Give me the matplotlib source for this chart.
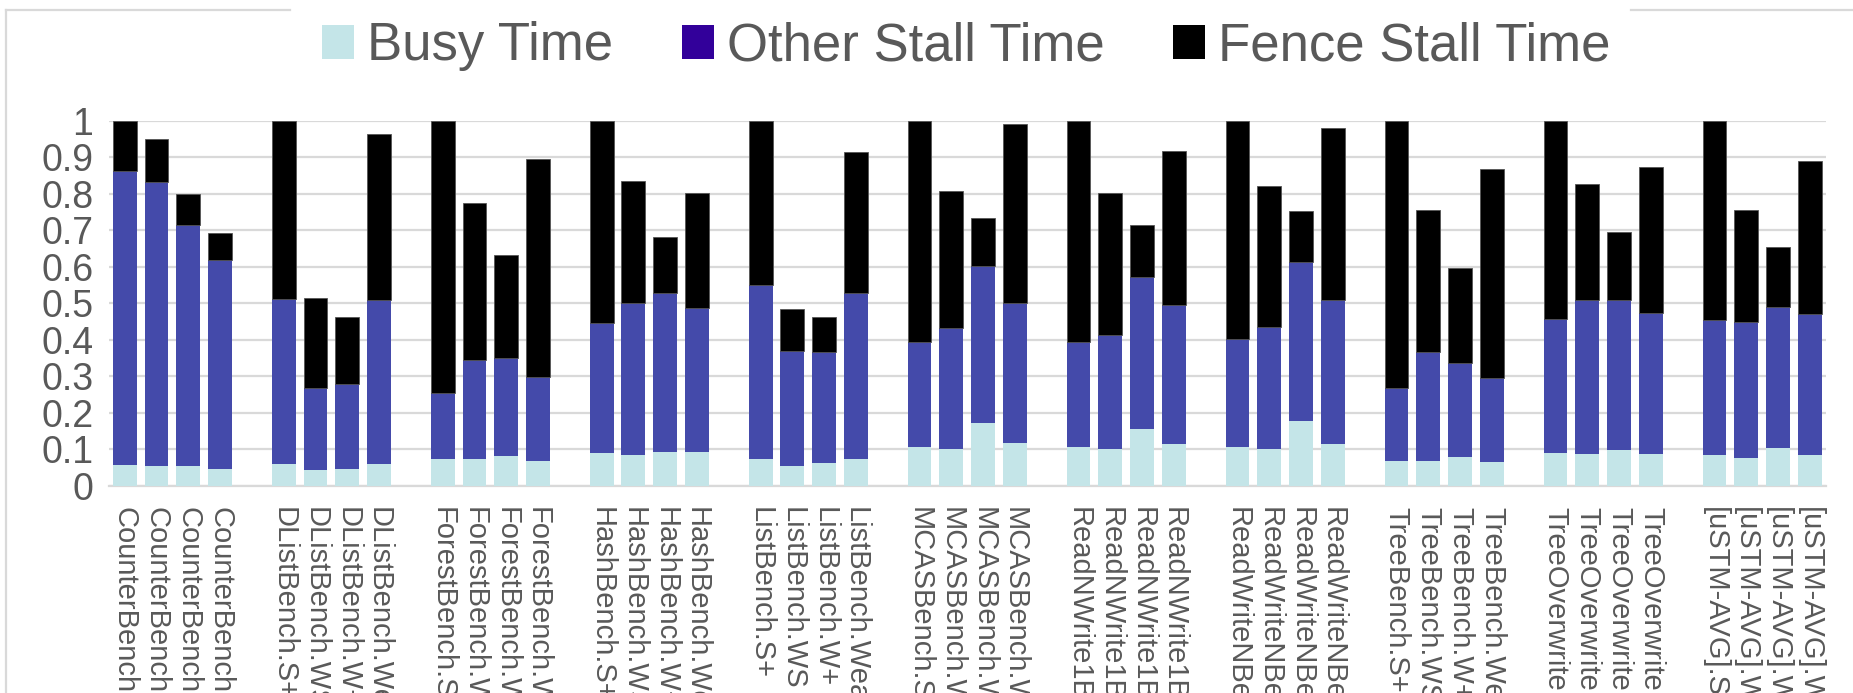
import matplotlib
matplotlib.use("Agg")
import matplotlib.pyplot as plt
from matplotlib.patches import Patch
from matplotlib.lines import Line2D
import numpy as np

plt.rcParams['font.family'] = ['Liberation Sans', 'DejaVu Sans']

groups = ["CounterBench", "DListBench", "ForestBench", "HashBench", "ListBench",
          "MCASBench", "ReadNWrite1Bench", "ReadWriteNBench", "TreeBench",
          "TreeOverwriteBench", "[uSTM-AVG]"]
variants = ["S+", "WS", "W+", "Weak"]

# cumulative tops, per group (4 bars each)
busy_top = [
    [0.058, 0.055, 0.055, 0.046],
    [0.061, 0.042, 0.046, 0.061],
    [0.073, 0.073, 0.082, 0.067],
    [0.089, 0.084, 0.093, 0.093],
    [0.073, 0.053, 0.063, 0.073],
    [0.105, 0.101, 0.172, 0.118],
    [0.105, 0.101, 0.156, 0.115],
    [0.105, 0.101, 0.178, 0.115],
    [0.068, 0.068, 0.080, 0.066],
    [0.089, 0.087, 0.099, 0.087],
    [0.083, 0.077, 0.103, 0.084],
]
other_top = [
    [0.861, 0.832, 0.714, 0.618],
    [0.512, 0.267, 0.279, 0.508],
    [0.255, 0.345, 0.350, 0.298],
    [0.447, 0.500, 0.529, 0.488],
    [0.551, 0.368, 0.366, 0.529],
    [0.395, 0.432, 0.602, 0.500],
    [0.393, 0.412, 0.573, 0.495],
    [0.402, 0.436, 0.614, 0.510],
    [0.268, 0.366, 0.336, 0.296],
    [0.458, 0.510, 0.508, 0.474],
    [0.455, 0.448, 0.489, 0.471],
]
total = [
    [1.000, 0.950, 0.800, 0.692],
    [1.000, 0.513, 0.461, 0.962],
    [1.000, 0.774, 0.632, 0.896],
    [1.000, 0.834, 0.682, 0.803],
    [1.000, 0.485, 0.461, 0.915],
    [1.000, 0.806, 0.734, 0.991],
    [1.000, 0.803, 0.715, 0.917],
    [1.000, 0.820, 0.752, 0.979],
    [1.000, 0.756, 0.595, 0.868],
    [1.000, 0.825, 0.694, 0.872],
    [1.000, 0.756, 0.655, 0.888],
]

busy = np.array(busy_top)
other = np.array(other_top) - busy
fence = np.array(total) - np.array(other_top)

C_BUSY = "#c4e5e8"
C_OTHER = "#444aaa"
C_OTHER_LEG = "#32009a"
C_FENCE = "#000000"
GRID = "#d9d9d9"
TXT = "#595959"

fig = plt.figure(figsize=(18.53, 6.93), dpi=100)
ax = fig.add_axes([0.0587, 0.299, 0.9266, 0.527])

xs, labels = [], []
for g, name in enumerate(groups):
    for k, v in enumerate(variants):
        xs.append(g * 5 + k)
        labels.append(f"{name}.{v}")
xs = np.array(xs)
b = busy.ravel(); o = other.ravel(); f = fence.ravel()

w = 0.75
ax.bar(xs, b, w, color=C_BUSY, zorder=3)
ax.bar(xs, o, w, bottom=b, color=C_OTHER, zorder=3)
ax.bar(xs, f, w, bottom=b + o, color=C_FENCE, edgecolor="#555555", linewidth=0.6, zorder=3)

ax.set_xlim(-0.5, 53.5)
ax.set_ylim(0, 1)
ax.set_yticks(np.arange(0, 1.01, 0.1))
ax.set_yticklabels(["0", "0.1", "0.2", "0.3", "0.4", "0.5", "0.6", "0.7", "0.8", "0.9", "1"])
ax.yaxis.grid(True, color=GRID, linewidth=1.6, zorder=0)
ax.set_axisbelow(True)
for s in ["top", "right", "left"]:
    ax.spines[s].set_visible(False)
ax.spines["bottom"].set_color(GRID)
ax.spines["bottom"].set_linewidth(1.6)
ax.tick_params(axis="y", length=0, pad=11, labelsize=27, labelcolor=TXT)
ax.set_xticks(xs)
ax.set_xticklabels(labels, rotation=-90, ha="center", va="top")
ax.tick_params(axis="x", length=0, pad=15, labelsize=21, labelcolor=TXT)

handles = [Patch(facecolor=C_BUSY, edgecolor="none", label="Busy Time"),
           Patch(facecolor=C_OTHER_LEG, edgecolor="none", label="Other Stall Time"),
           Patch(facecolor=C_FENCE, edgecolor="none", label="Fence Stall Time")]
leg = fig.legend(handles=handles, loc="center", bbox_to_anchor=(0.5216, 0.933),
                 ncol=3, fontsize=38, frameon=False, handlelength=0.6,
                 handleheight=0.6, handletextpad=0.25, columnspacing=1.3,
                 labelcolor=TXT)

# chart border (partially hidden behind the legend)
fig.add_artist(Line2D([6 / 1853, 290 / 1853], [1 - 10 / 693, 1 - 10 / 693],
                      transform=fig.transFigure, color=GRID, linewidth=1.6))
fig.add_artist(Line2D([1631 / 1853, 1.0], [1 - 10 / 693, 1 - 10 / 693],
                      transform=fig.transFigure, color=GRID, linewidth=1.6))
fig.add_artist(Line2D([6 / 1853, 6 / 1853], [0, 1 - 10 / 693],
                      transform=fig.transFigure, color=GRID, linewidth=1.6))

fig.savefig("out.png", dpi=100)
